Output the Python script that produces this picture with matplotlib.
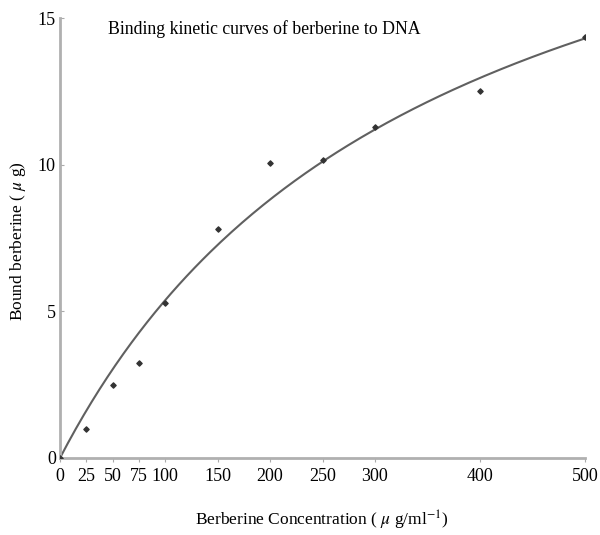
import numpy as np
import matplotlib.pyplot as plt

plt.rcParams['font.family'] = ['Liberation Serif', 'DejaVu Serif']
plt.rcParams['mathtext.fontset'] = 'stix'

# measured points
conc = [0, 25, 50, 75, 100, 150, 200, 250, 300, 400, 500]
bound = [0, 1.0, 2.5, 3.25, 5.3, 7.8, 10.05, 10.15, 11.3, 12.5, 14.35]

# fitted saturation curve parameters
bmax = 24.5
kd = 356.0

xticks = [0, 25, 50, 75, 100, 150, 200, 250, 300, 400, 500]
yticks = [0, 5, 10, 15]

fig = plt.figure(figsize=(6, 5.35), dpi=100)
fig.set_facecolor('white')
ax = fig.add_axes([0.1, 0.144, 0.875, 0.822])

xs = np.linspace(0, 500, 200)
ax.plot(xs, bmax * xs / (kd + xs), color='#606060', lw=1.5)
ax.scatter(conc, bound, s=7, color='#333333', marker='D', zorder=3)

ax.set_xlim(0, 500)
ax.set_ylim(0, 15)
ax.set_xticks(xticks)
ax.set_yticks(yticks)
ax.tick_params(axis='x', direction='out', length=3, color='#aaaaaa', labelsize=13, pad=4)
ax.tick_params(axis='y', direction='in', length=3, color='#aaaaaa', labelsize=13, pad=3)

for s in ['top', 'right']:
    ax.spines[s].set_visible(False)
for s in ['left', 'bottom']:
    ax.spines[s].set_color('#b0b0b0')
    ax.spines[s].set_linewidth(2)

fig.text(0.537, 0.005, 'Berberine Concentration ( $\\mu$ g/ml$^{-1}$)', fontsize=12.5,
         ha='center', va='bottom')
fig.text(0.03, 0.55, 'Bound berberine ( $\\mu$ g)', fontsize=12.5, rotation=90,
         ha='center', va='center')
ax.text(0.092, 0.995, 'Binding kinetic curves of berberine to DNA', transform=ax.transAxes,
        fontsize=12.8, va='top')

fig.savefig('out.png', dpi=100)
